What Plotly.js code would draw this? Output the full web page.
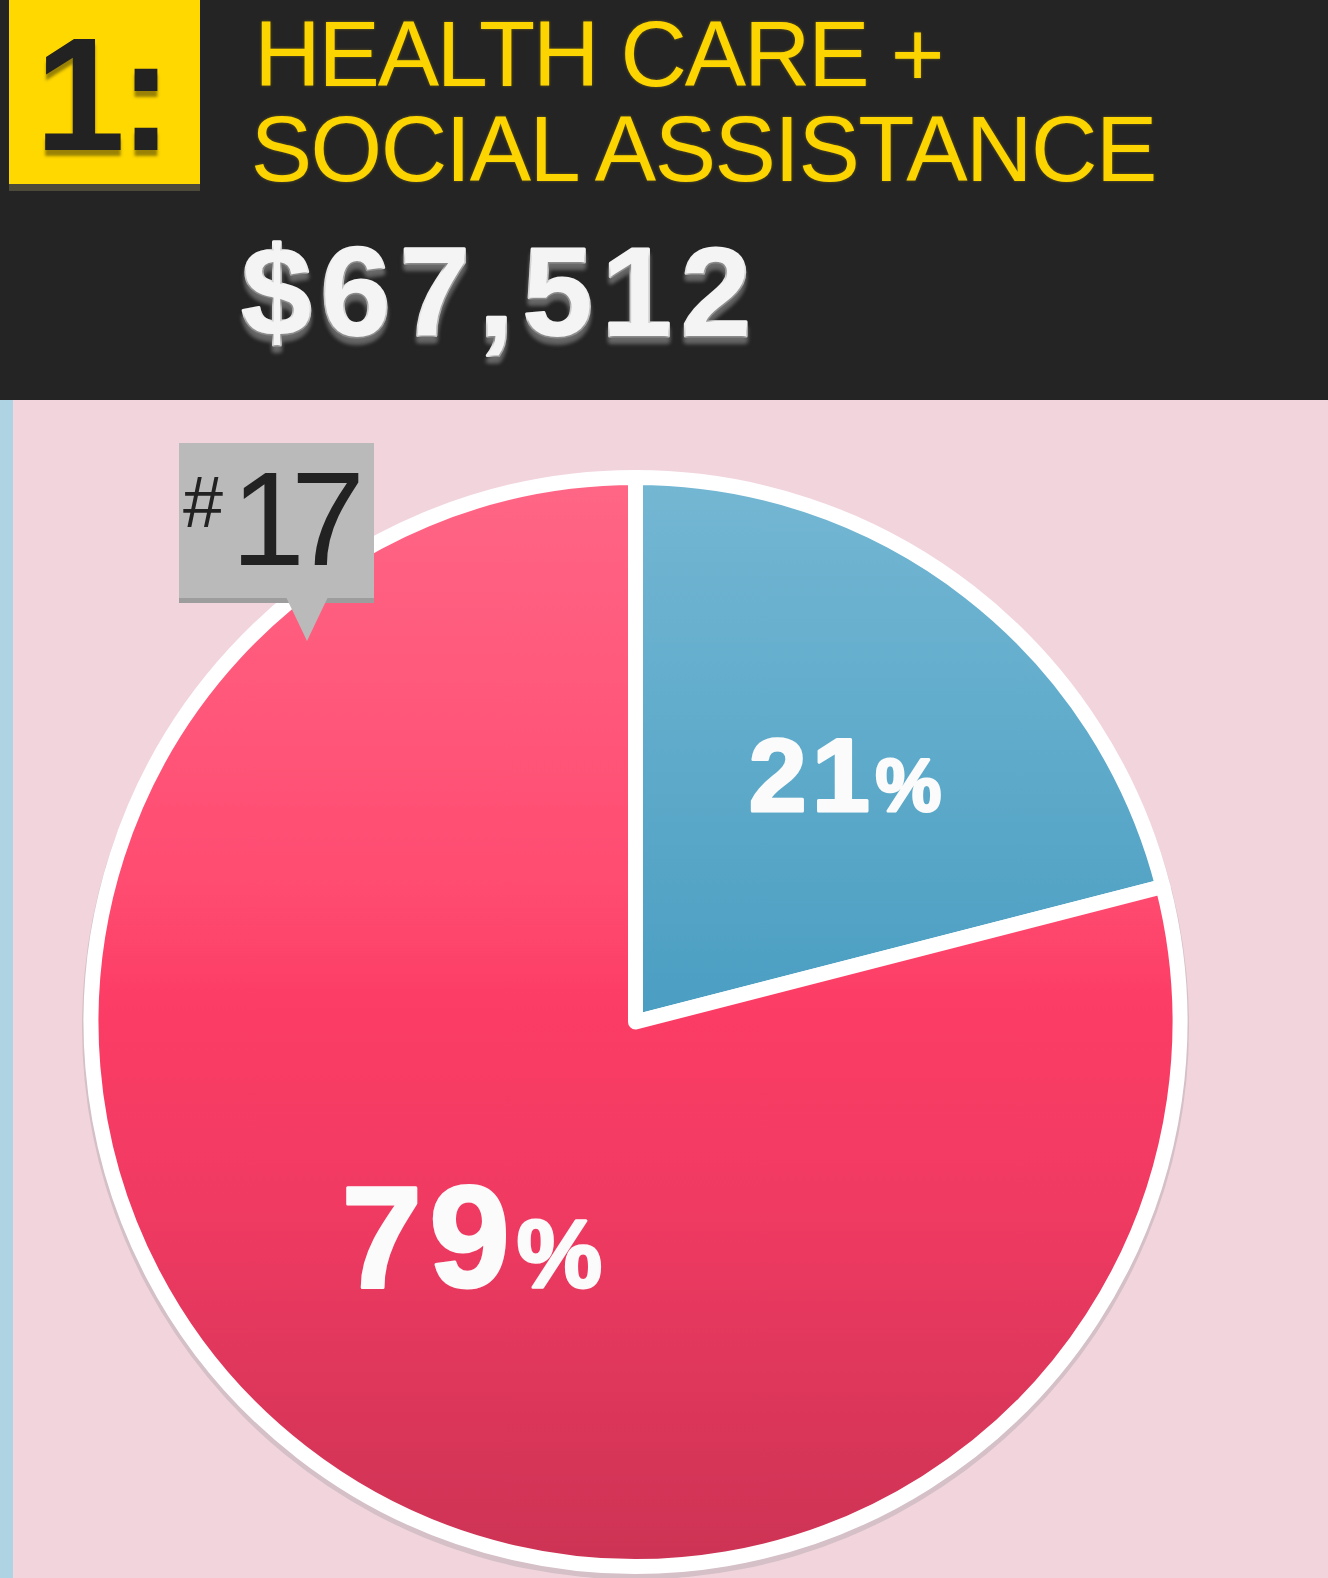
<!DOCTYPE html>
<html>
<head>
<meta charset="utf-8">
<script src="https://cdn.plot.ly/plotly-3.0.1.min.js"></script>
<style>
  html, body { margin: 0; padding: 0; background: #f2d4dd; }
  #chart { width: 1328px; height: 1578px; }
</style>
</head>
<body>
<div id="chart"></div>
<script>
// ---- data ----
const sliceLabels = ['Blue segment', 'Pink segment'];
const sliceValues = [21, 79];
const sliceColors = ['#5eaacb', '#f8426a'];
const industryRank = '1:';
const industryLines = ['HEALTH CARE +', 'SOCIAL ASSISTANCE'];
const salaryText = '$67,512';
const rankPrefix = '#';
const rankNumber = '17';

// ---- geometry helpers (pixels -> paper fractions) ----
const W = 1328, H = 1578;
const X = p => p / W;
const Y = p => 1 - p / H;
const CX = 635.5, CY = 1022, R = 544.5;
const FONT = 'Liberation Sans, Arial, Helvetica, sans-serif';
const ASC = 0.3465; // baseline -> text box centre, in em

const data = [{
  type: 'pie',
  labels: sliceLabels,
  values: sliceValues,
  sort: false,
  direction: 'clockwise',
  rotation: 0,
  textinfo: 'none',
  hoverinfo: 'skip',
  showlegend: false,
  marker: { colors: sliceColors, line: { color: '#ffffff', width: 15 } },
  domain: { x: [X(CX - R), X(CX + R)], y: [Y(CY + R), Y(CY - R)] }
}];

// annotation builder: cx = ink centre, baseline = text baseline (px)
const annotations = [];
const extraCss = [];
function addText(text, cx, baseline, font, ls, stroke) {
  const i = annotations.length;
  annotations.push({
    xref: 'paper', yref: 'paper',
    x: X(cx + ls / 2), y: Y(baseline - ASC * font.size),
    xanchor: 'center', yanchor: 'middle', showarrow: false,
    text: text, font: font
  });
  let css = 'letter-spacing:' + ls + 'px;';
  if (stroke) css += 'stroke:' + stroke.color + ';stroke-width:' + stroke.width + 'px;stroke-linejoin:round;paint-order:stroke fill;';
  extraCss.push('g.annotation[data-index="' + i + '"] text{' + css + '}');
}

addText(industryRank, 104, 150,
  { family: FONT, size: 162, color: '#222222', weight: 700, shadow: '0px 6px 3px rgba(70,60,10,0.55)' }, -6);
addText(industryLines[0], 600, 86,
  { family: FONT, size: 92, color: '#fcd400', shadow: '0px 0px 3px rgba(252,212,0,0.35)' }, -2.2);
addText(industryLines[1], 704, 181,
  { family: FONT, size: 92, color: '#fcd400', shadow: '0px 0px 3px rgba(252,212,0,0.35)' }, -1.5);
addText(salaryText, 495.5, 336,
  { family: FONT, size: 126, color: '#f4f4f4', weight: 700, shadow: '0px 6px 4px rgba(120,120,120,0.85)' }, 9,
  { color: '#f4f4f4', width: 3 });
addText(rankPrefix, 202.5, 527, { family: FONT, size: 72, color: '#222222' }, 0);
addText(rankNumber, 298, 565, { family: FONT, size: 133, color: '#222222' }, -14);

// percentage labels placed from slice mid-angles
const total = sliceValues.reduce((a, b) => a + b, 0);
const radialFrac = [0.596, 0.493];
const angleShift = [2.4, -0.3];
const mainSizes = [104, 145];
const pctSizes = [74, 96];
const pctSpacing = [5.5, 7];
let cum = 0;
sliceValues.forEach((v, i) => {
  const mid = ((cum + v / 2) / total * 360 + angleShift[i]) * Math.PI / 180;
  cum += v;
  const r = radialFrac[i] * R;
  const px = CX + r * Math.sin(mid);
  const py = CY - r * Math.cos(mid);
  addText(v + '<span style="font-size:' + pctSizes[i] + 'px">%</span>', px, py + 0.358 * mainSizes[i],
    { family: FONT, size: mainSizes[i], color: '#fbfbfb', weight: 700 }, pctSpacing[i],
    { color: '#fbfbfb', width: 3 });
});

const styleEl = document.createElement('style');
styleEl.textContent = extraCss.join('\n');
document.head.appendChild(styleEl);

const rect = (x0, y0, x1, y1, color, layer) => ({
  type: 'rect', xref: 'paper', yref: 'paper',
  x0: X(x0), x1: X(x1), y0: Y(y1), y1: Y(y0),
  fillcolor: color, line: { width: 0 }, layer: layer
});

const shapes = [
  rect(0, 0, W, 400, '#242424', 'below'),
  rect(0, 400, 13, H, '#aed4e4', 'below'),
  rect(9, 184, 200, 191, '#4e4a3a', 'below'),
  rect(9, 0, 200, 184, '#ffd800', 'below'),
  { type: 'circle', xref: 'paper', yref: 'paper',
    x0: X(CX - R - 9), x1: X(CX + R + 9), y0: Y(CY + R + 13), y1: Y(CY - R - 4),
    fillcolor: 'rgba(150,150,150,0.32)', line: { width: 0 }, layer: 'below' },
  rect(179, 446, 374, 603, '#9d9d9d', 'above'),
  rect(179, 443, 374, 598, '#bababa', 'above'),
  { type: 'path', xref: 'paper', yref: 'paper',
    path: 'M' + X(286) + ',' + Y(597) + ' L' + X(328) + ',' + Y(597) + ' L' + X(307) + ',' + Y(641) + ' Z',
    fillcolor: '#bababa', line: { width: 0 }, layer: 'above' }
];

const layout = {
  width: W, height: H,
  margin: { l: 0, r: 0, t: 0, b: 0 },
  paper_bgcolor: '#f2d4dd',
  plot_bgcolor: '#f2d4dd',
  showlegend: false,
  shapes: shapes,
  annotations: annotations
};

Plotly.newPlot('chart', data, layout, { staticPlot: true, displayModeBar: false }).then(gd => {
  const ns = 'http://www.w3.org/2000/svg';
  const svg = gd.querySelector('.main-svg');
  let defs = svg.querySelector('defs');
  if (!defs) { defs = document.createElementNS(ns, 'defs'); svg.insertBefore(defs, svg.firstChild); }
  const gradStops = [
    [[0, '#74b7d3'], [1, '#4a9ec2']],
    [[0, '#ff6686'], [0.38, '#ff4b70'], [0.48, '#fc3d65'], [0.67, '#f03a62'], [1, '#cc3354']]
  ];
  gradStops.forEach((stops, i) => {
    const g = document.createElementNS(ns, 'linearGradient');
    g.setAttribute('id', 'sliceGrad' + i);
    g.setAttribute('x1', '0'); g.setAttribute('y1', '0');
    g.setAttribute('x2', '0'); g.setAttribute('y2', '1');
    stops.forEach(([o, c]) => {
      const s = document.createElementNS(ns, 'stop');
      s.setAttribute('offset', o); s.setAttribute('stop-color', c);
      g.appendChild(s);
    });
    defs.appendChild(g);
  });
  gd.querySelectorAll('.pielayer .slice path.surface').forEach((p, i) => {
    p.style.fill = 'url(#sliceGrad' + i + ')';
  });
});
</script>
</body>
</html>
